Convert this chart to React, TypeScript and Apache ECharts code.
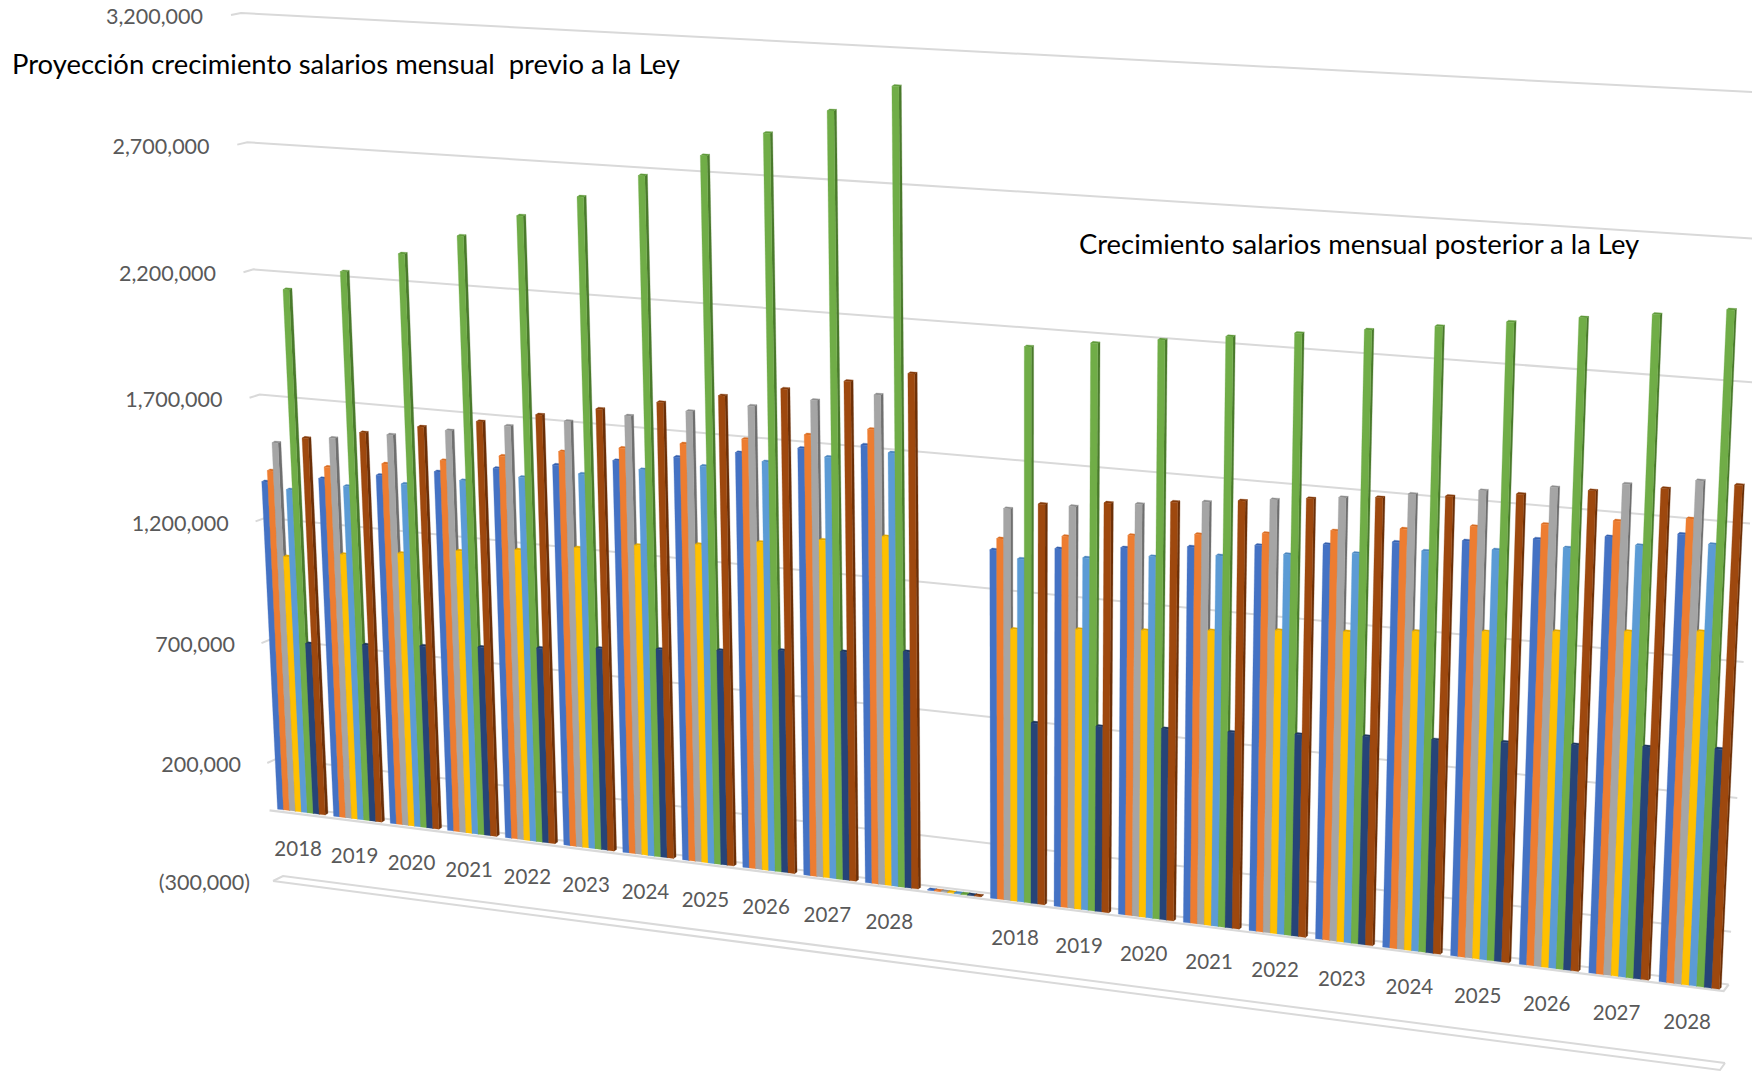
import React, { useEffect, useRef } from "react";
import * as echarts from "echarts";

const WIDTH = 1752;
const HEIGHT = 1072;

const categories = ["2018","2019","2020","2021","2022","2023","2024","2025","2026","2027","2028","","2018","2019","2020","2021","2022","2023","2024","2025","2026","2027","2028"];
const yTicks = [-300000, 200000, 700000, 1200000, 1700000, 2200000, 2700000, 3200000];

const serie1 = [1358,1393,1428,1464,1499,1534,1573,1608,1647,1685,1719,3,1363,1391,1418,1445,1474,1501,1533,1561,1591,1623,1655];
const serie2 = [1405,1441,1476,1511,1550,1589,1624,1662,1701,1739,1781,3,1408,1440,1467,1494,1521,1554,1584,1616,1647,1682,1713];
const serie3 = [1520,1560,1594,1632,1671,1710,1752,1790,1831,1873,1914,3,1525,1556,1587,1618,1649,1679,1714,1749,1783,1817,1851];
const serie4 = [1060,1093,1121,1154,1182,1214,1247,1274,1306,1338,1375,3,1066,1091,1112,1137,1163,1184,1210,1235,1261,1286,1312];
const serie5 = [1335,1371,1402,1438,1473,1508,1547,1582,1621,1660,1698,3,1338,1366,1395,1422,1450,1478,1510,1538,1569,1601,1628];
const serie6 = [2138,2226,2313,2399,2493,2581,2677,2767,2865,2962,3065,3,2140,2172,2203,2234,2265,2296,2327,2361,2395,2425,2459];
const serie7 = [710,731,752,773,795,820,842,863,889,910,936,3,711,725,744,759,778,798,813,832,851,871,891];
const serie8 = [1550,1593,1637,1679,1726,1769,1815,1861,1907,1956,2005,3,1554,1581,1607,1634,1665,1691,1718,1748,1783,1813,1847];

const seriesValues = [serie1, serie2, serie3, serie4, serie5, serie6, serie7, serie8];
const seriesColors = ["#4472C4", "#ED7D31", "#A5A5A5", "#FFC000", "#5B9BD5", "#70AD47", "#264478", "#9E480E"];
const sideColors = ["#2F5597", "#B25A1E", "#6F6F6F", "#BF9000", "#3A75AB", "#4A7A2C", "#172C4F", "#6B2F08"];
const capColors = ["#3560AE", "#D86C22", "#8E8E8E", "#E0A800", "#4A86BE", "#5F9A3A", "#1D3860", "#853B0A"];

const titleLeft = "Proyección crecimiento salarios mensual  previo a la Ley";
const titleRight = "Crecimiento salarios mensual posterior a la Ley";

const SLOTS = categories.length;
const Y_MIN = -300000;
const Y_MAX = 3200000;
const GAP = 0.075;
const BAR = 0.10625;
const GRID_COLOR = "#D9D9D9";

type Pt = [number, number];

// Projective map of the unit square (t along the categories, s up the value axis)
function makePlane(p0: Pt, p1: Pt, p2: Pt, p3: Pt) {
  const sx = p0[0] - p1[0] + p2[0] - p3[0];
  const sy = p0[1] - p1[1] + p2[1] - p3[1];
  const dx1 = p1[0] - p2[0];
  const dy1 = p1[1] - p2[1];
  const dx2 = p3[0] - p2[0];
  const dy2 = p3[1] - p2[1];
  const den = dx1 * dy2 - dx2 * dy1;
  const g = (sx * dy2 - dx2 * sy) / den;
  const h = (dx1 * sy - sx * dy1) / den;
  const a = p1[0] - p0[0] + g * p1[0];
  const b = p3[0] - p0[0] + h * p3[0];
  const d = p1[1] - p0[1] + g * p1[1];
  const e = p3[1] - p0[1] + h * p3[1];
  return (t: number, s: number): Pt => {
    const w = g * t + h * s + 1;
    return [(a * t + b * s + p0[0]) / w, (d * t + e * s + p0[1]) / w];
  };
}

const wallPlane = makePlane([283, 876], [1725, 1063], [1770, 93], [241, 13]);
const barPlane = makePlane([276.8, 879.1], [1721, 1068.6], [1766, 95.4], [234.8, 14.2]);
const edgePlane = makePlane([273, 881], [1720, 1070], [1765, 96], [231, 15]);

function normalise(params: any, api: any, x: number, y: number): Pt {
  const c = api.coord([x, y]);
  const sys = params.coordSys;
  return [(c[0] - sys.x) / sys.width, 1 - (c[1] - sys.y) / sys.height];
}

function seg(points: Pt[], width = 2) {
  return {
    type: "polyline",
    silent: true,
    shape: { points },
    style: { fill: "none", stroke: GRID_COLOR, lineWidth: width },
  };
}

function renderGrid(params: any, api: any) {
  const value = api.value(1);
  const [, s] = normalise(params, api, 0, value);
  const children: any[] = [seg([edgePlane(0, s), wallPlane(0, s), wallPlane(1, s)])];
  if (value === Y_MIN) {
    children.push(seg([edgePlane(0, s), edgePlane(1, s), wallPlane(1, s)]));
  }
  const label = value < 0 ? `(${Math.abs(value).toLocaleString("en-US")})` : value.toLocaleString("en-US");
  const corner = wallPlane(0, s);
  children.push({
    type: "text",
    silent: true,
    style: {
      text: label,
      x: corner[0] - 38 + (1 - s) * 2 + (value < 0 ? 3 : 0),
      y: corner[1] + 6.2 - 3 * s,
      fill: "#595959",
      fontSize: 21.5,
      fontFamily: "Lato",
      textAlign: "right",
      textVerticalAlign: "middle",
    },
  });
  return { type: "group", children };
}

function renderFloor(params: any, api: any) {
  const [, s] = normalise(params, api, 0, api.value(1));
  return {
    type: "group",
    children: [seg([wallPlane(0, s), wallPlane(1, s)]), seg([edgePlane(0, s), edgePlane(1, s), wallPlane(1, s)], 2.2)],
  };
}

function renderCategory(params: any, api: any) {
  const slot = api.value(0);
  const [t] = normalise(params, api, slot + 0.5, 0);
  const [, s] = normalise(params, api, 0, api.value(1));
  const p = barPlane(t, s);
  return {
    type: "text",
    silent: true,
    style: {
      text: categories[slot],
      x: p[0] - 5 * (1 - t),
      y: p[1] - 5 * t - 0.5,
      fill: "#595959",
      fontSize: 20.5,
      fontFamily: "Lato",
      textAlign: "center",
      textVerticalAlign: "middle",
    },
  };
}

function renderBars(k: number) {
  return (params: any, api: any) => {
    const slot = api.value(0);
    const value = api.value(1);
    const x0 = slot + GAP + BAR * k;
    const x1 = x0 + BAR;
    const [t0, s0] = normalise(params, api, x0, 0);
    const [t1, s1] = normalise(params, api, x1, value);
    const bl = barPlane(t0, s0);
    const br = barPlane(t1, s0);
    const tl = barPlane(t0, s1);
    const tr = barPlane(t1, s1);
    const side = 2.8 - 0.8 * t0;
    const rise = -1.7;
    const poly = (points: Pt[], fill: string) => ({
      type: "polygon",
      silent: true,
      shape: { points },
      style: { fill, stroke: fill, lineWidth: 0.3 },
    });
    const back = (p: Pt): Pt => [p[0] + side, p[1] + rise];
    return {
      type: "group",
      children: [
        poly([br, tr, back(tr), back(br)], sideColors[k]),
        poly([tl, tr, back(tr), back(tl)], capColors[k]),
        poly([bl, br, tr, tl], seriesColors[k]),
      ],
    };
  };
}

export default function App() {
  const ref = useRef<HTMLDivElement>(null);
  useEffect(() => {
    const chart = echarts.init(ref.current!, undefined, { renderer: "svg" });
    const base = { type: "custom", coordinateSystem: "cartesian2d", clip: false, silent: true, encode: { x: 0, y: 1 } };
    chart.setOption({
      animation: false,
      backgroundColor: "#ffffff",
      grid: { left: 0, right: 0, top: 0, bottom: 0 },
      xAxis: { type: "value", min: 0, max: SLOTS, show: false },
      yAxis: { type: "value", min: Y_MIN, max: Y_MAX, show: false, scale: true },
      graphic: [
        { type: "text", x: 12, y: 63.5, silent: true, style: { text: titleLeft, fill: "#000000", fontSize: 27.4, fontFamily: "Lato", textVerticalAlign: "middle" } },
        { type: "text", x: 1079, y: 243.5, silent: true, style: { text: titleRight, fill: "#000000", fontSize: 27.4, fontFamily: "Lato", textVerticalAlign: "middle" } },
      ],
      series: [
        { ...base, name: "grid", renderItem: renderGrid, data: yTicks.map((v) => [0, v]), z: 1 },
        { ...base, name: "floor", renderItem: renderFloor, data: [[0, 0]], z: 1 },
        { ...base, name: "categories", renderItem: renderCategory, data: categories.map((_, i) => [i, -155000]), z: 1 },
        ...seriesValues.map((vals, k) => ({
          ...base,
          name: `Serie ${k + 1}`,
          z: 2 + k,
          renderItem: renderBars(k),
          data: vals.map((v, i) => [i, v * 1000]),
        })),
      ],
    });
    return () => chart.dispose();
  }, []);
  return <div ref={ref} style={{ position: "absolute", left: 0, top: 0, width: WIDTH, height: HEIGHT }} />;
}
